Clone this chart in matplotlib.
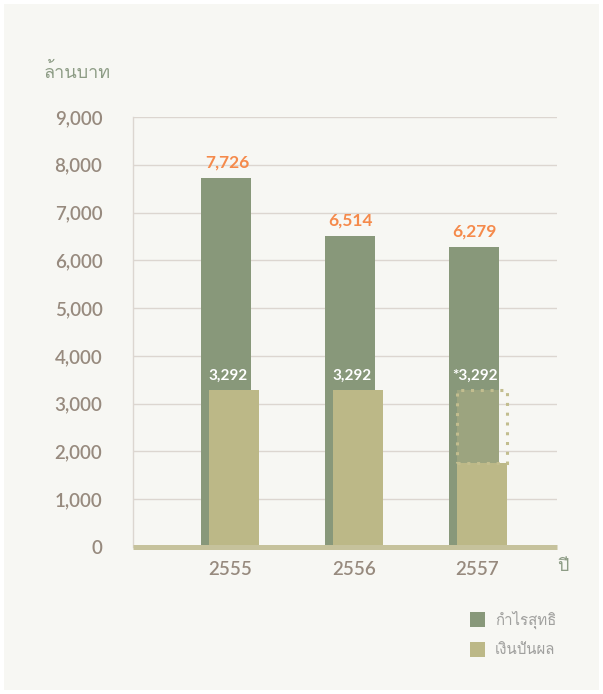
import matplotlib
matplotlib.use("Agg")
import matplotlib.pyplot as plt
from matplotlib import font_manager as fm
from matplotlib.patches import Rectangle
import numpy as np

# ---- data ----
years = ["2555", "2556", "2557"]
net_profit = [7726, 6514, 6279]
dividend = [3292, 3292, 1760]
dividend_labels = ["3,292", "3,292", "*3,292"]
dividend_planned = 3292
profit_labels = ["7,726", "6,514", "6,279"]
yticks = [0, 1000, 2000, 3000, 4000, 5000, 6000, 7000, 8000, 9000]
ytick_labels = ["0", "1,000", "2,000", "3,000", "4,000", "5,000", "6,000", "7,000", "8,000", "9,000"]
legend_labels = ["กำไรสุทธิ", "เงินปันผล"]
y_unit = "ล้านบาท"
x_unit = "ปี"

# ---- find fonts with Thai glyphs ----
thai_fonts = []
try:
    from fontTools.ttLib import TTFont
    seen = set()
    for f in fm.fontManager.ttflist:
        if f.name in seen:
            continue
        try:
            tt = TTFont(f.fname, fontNumber=0, lazy=True)
            cmap = tt.getBestCmap()
            if 0x0E01 in cmap and 0x0E33 in cmap:
                thai_fonts.append(f.name)
                seen.add(f.name)
        except Exception:
            pass
except Exception:
    pass
for pref in ["Loma", "Waree"]:
    if pref in thai_fonts:
        thai_fonts.remove(pref)
        thai_fonts.insert(0, pref)

latin = "Lato"
fam = [latin] + thai_fonts + ["DejaVu Sans"]
thai_fam = thai_fonts + [latin, "DejaVu Sans"]

W, H = 603, 694
fig = plt.figure(figsize=(W / 100, H / 100), dpi=100, facecolor="white")
fig.patches.append(Rectangle((4 / W, 4 / H), 595 / W, 686 / H, transform=fig.transFigure,
                             facecolor="#f7f7f3", edgecolor="none", zorder=-10))

ax = fig.add_axes([133 / W, 1 - 547 / H, (557 - 133) / W, (547 - 117) / H])
ax.set_facecolor("none")

green = "#88987a"
tan = "#bcb887"
orange = "#f58a4b"
tickc = "#978a7e"

unit = 123.75
x = np.arange(len(years))
bw = 50 / unit
off = 4 / unit
ax.bar(x - off, net_profit, width=bw, color=green, zorder=2)
ax.bar(x + off, dividend, width=bw, color=tan, zorder=3)

# planned dividend dotted outline for last year
i = 2
left = x[i] + off - bw / 2
rect = Rectangle((left, dividend[i]), bw, dividend_planned - dividend[i], fill=False,
                 edgecolor="#c2bd8e", linestyle=(0, (1, 2.2)), linewidth=2.2, zorder=5)
ax.add_patch(rect)
gl_right = x[i] - off + bw / 2
ax.add_patch(Rectangle((left, dividend[i]), gl_right - left, dividend_planned - dividend[i],
                       facecolor=tan, alpha=0.4, edgecolor="none", zorder=4))

for xi, v, lab in zip(x, net_profit, profit_labels):
    ax.text(xi - off + 1 / unit, v + 150, lab, ha="center", va="bottom", color=orange,
            fontsize=12.5, fontweight="bold", family=fam, zorder=6)
for xi, lab in zip(x, dividend_labels):
    ax.text(xi - 2 / unit, dividend_planned + 150, lab, ha="center", va="bottom", color="white",
            fontsize=11, fontweight="bold", family=fam, zorder=6)

ax.set_xlim(-0.784, 2.642)
ax.set_ylim(0, 9000)
ax.set_yticks(yticks)
ax.set_yticklabels(ytick_labels)
ax.grid(axis="y", color="#dcd6d0", linewidth=1, zorder=0)
ax.set_axisbelow(True)
for s in ["top", "right", "bottom"]:
    ax.spines[s].set_visible(False)
ax.spines["left"].set_color("#dcd6d0")
ax.spines["left"].set_linewidth(1)
ax.tick_params(axis="y", length=0, pad=22, labelsize=13.5, labelcolor=tickc)
ax.tick_params(axis="x", length=0, pad=10, labelsize=13.5, labelcolor=tickc)
for t in ax.get_yticklabels():
    t.set_family(fam)
    t.set_fontweight("semibold")
ax.set_xticks(x)
ax.set_xticklabels(years)
for t in ax.get_xticklabels():
    t.set_family(fam)
    t.set_fontweight("semibold")

ax.axhline(0, color="#c6c29c", linewidth=3.6, zorder=6, clip_on=False, xmin=0, xmax=1.0,
           solid_capstyle="butt")

fig.text(44 / W, 1 - 72 / H, y_unit, ha="left", va="center", color="#8d9c85",
         fontsize=13, family=thai_fam)
fig.text(557 / W, 1 - 566 / H, x_unit, ha="left", va="center", color="#8d9c85",
         fontsize=13, family=thai_fam)

# legend
for k, (c, lab) in enumerate(zip([green, tan], legend_labels)):
    yc = 619.5 + k * 30
    fig.patches.append(Rectangle((470 / W, 1 - (yc + 7.5) / H), 15 / W, 15 / H,
                                 transform=fig.transFigure, facecolor=c, edgecolor="none"))
    fig.text(495 / W, 1 - yc / H, lab, ha="left", va="center", color="#a0a09e",
             fontsize=10.8, family=thai_fam)

fig.savefig("out.png", dpi=100, facecolor="white")
